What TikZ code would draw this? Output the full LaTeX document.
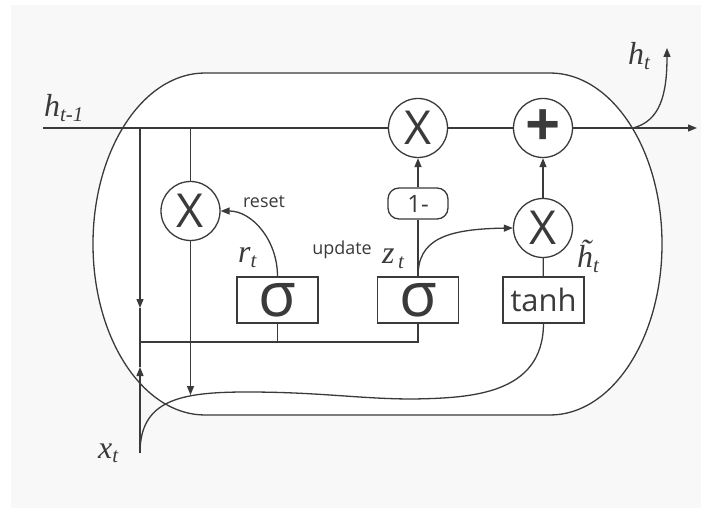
\documentclass[tikz,border=0pt]{standalone}
\usepackage{fontspec}
\setmainfont{Liberation Serif}
\setsansfont{Open Sans}
\usepackage{tikz}
\usetikzlibrary{arrows.meta}
\definecolor{bggray}{RGB}{248,248,248}
\definecolor{ink}{RGB}{58,58,58}
\newcommand{\gvar}[2]{#1\raisebox{-0.14em}{\fontsize{21}{21}\selectfont #2}}
\tikzset{
  >={Triangle[length=9bp,width=7bp]},
  wire/.style={draw=ink,line width=1.3bp},
  flow/.style={wire,->},
  gate/.style={circle,draw=ink,line width=1.3bp,fill=white,minimum size=59bp,
    inner sep=0pt,text=ink,font=\sffamily\fontsize{47}{47}\selectfont},
  actbox/.style={rectangle,draw=ink,line width=1.3bp,fill=white,
    minimum width=81bp,minimum height=46bp,inner sep=0pt,text=ink},
  onebox/.style={rectangle,rounded corners=11bp,draw=ink,line width=1.3bp,
    fill=white,minimum width=60bp,minimum height=31bp,inner sep=0pt,text=ink,
    font=\sffamily\fontsize{24}{24}\selectfont},
  mlbl/.style={text=ink,inner sep=0pt,font=\rmfamily\itshape\fontsize{32}{32}\selectfont},
  wlbl/.style={text=ink,inner sep=0pt,font=\sffamily\fontsize{18}{18}\selectfont},
}

\begin{document}
\begin{tikzpicture}[x=1bp,y=-1bp]
  \useasboundingbox (0,0) rectangle (701,508);
  \fill[white] (0,0) rectangle (701,508);
  \fill[bggray] (11,5) rectangle (701,508);
  % cell
  \draw[wire,fill=white] (205,73) -- (550,73)
    arc[start angle=-90,end angle=90,x radius=112,y radius=171]
    -- (205,415)
    arc[start angle=90,end angle=270,x radius=112,y radius=171] -- cycle;

  \node[gate] (rx) at (190.5,211) {X};
  \node[gate] (mx) at (418,128) {X};
  \node[gate,font=\sffamily\bfseries\fontsize{62}{62}\selectfont] (pl) at (543,128) {+};
  \node[gate] (hx) at (543,228) {X};
  \node[actbox,font=\sffamily\fontsize{62}{62}\selectfont] (sr) at (277.5,300) {σ};
  \node[actbox,font=\sffamily\fontsize{62}{62}\selectfont] (sz) at (418,300) {σ};
  \node[actbox,font=\sffamily\fontsize{31}{31}\selectfont] (th) at (543.5,300) {tanh};
  \node[onebox] (om) at (418,203.5) {1-};

  \coordinate (hin) at (43,128);
  \coordinate (hout) at (697,128);
  \coordinate (tapa) at (140,128);
  \coordinate (tapb) at (190.5,128);
  \coordinate (dna) at (140,308);
  \coordinate (jn) at (140,342);
  \coordinate (upa) at (140,367);
  \coordinate (xin) at (140,453);
  \coordinate (mrg) at (190.5,395);
  \coordinate (cross) at (633,128);
  \coordinate (hup) at (667,48);

  % state line
  \draw[wire] (hin) -- (mx);
  \draw[wire] (mx) -- (pl);
  \draw[flow] (pl) -- (hout);
  \draw[flow] (cross) .. controls (660,121) and (667,95) .. (hup);

  % inputs to the gates
  \draw[flow] (tapa) -- (dna);
  \draw[wire] (dna) -- (jn);
  \draw[flow] (xin) -- (upa);
  \draw[wire] (upa) -- (jn);
  \draw[wire] (jn) -| (sr.south);
  \draw[wire] (jn) -| (sz.south);

  % reset path
  \draw[wire] (tapb) -- (rx);
  \draw[flow] (rx) -- (mrg);
  \draw[flow] (sr.north) .. controls (277.5,240) and (252,211) .. (rx.east);
  \draw[wire] (xin) .. controls (140,400) and (180,392) .. (247,392)
    .. controls (320,392) and (360,399) .. (413,399)
    .. controls (470,398) and (543,395) .. (th.south);

  % update path
  \draw[wire] (sz.north) -- (om);
  \draw[flow] (om) -- (mx);
  \draw[flow] (sz.north) .. controls (418,240) and (445,229) .. (hx.west);
  \draw[wire] (th) -- (hx);
  \draw[flow] (hx) -- (pl);

  \node[mlbl,anchor=base west] (lhp) at (44,117) {\gvar{h}{t-1}};
  \node[mlbl,anchor=base west] (lht) at (628,65) {\gvar{h}{t}};
  \node[mlbl,anchor=base west] (lxt) at (98,458) {\gvar{x}{t}};
  \node[mlbl,anchor=base west] (lrt) at (238,263) {\gvar{r}{t}};
  \node[mlbl,anchor=base west] (lzt) at (382,264) {\gvar{z}{\,t}};
  \node[mlbl,anchor=base west] (lhh) at (577,268) {\gvar{h\char"0303}{t}};
  \node[wlbl,anchor=base] (lrs) at (264,208) {reset};
  \node[wlbl,anchor=base] (lup) at (342,255) {update};
\end{tikzpicture}
\end{document}
